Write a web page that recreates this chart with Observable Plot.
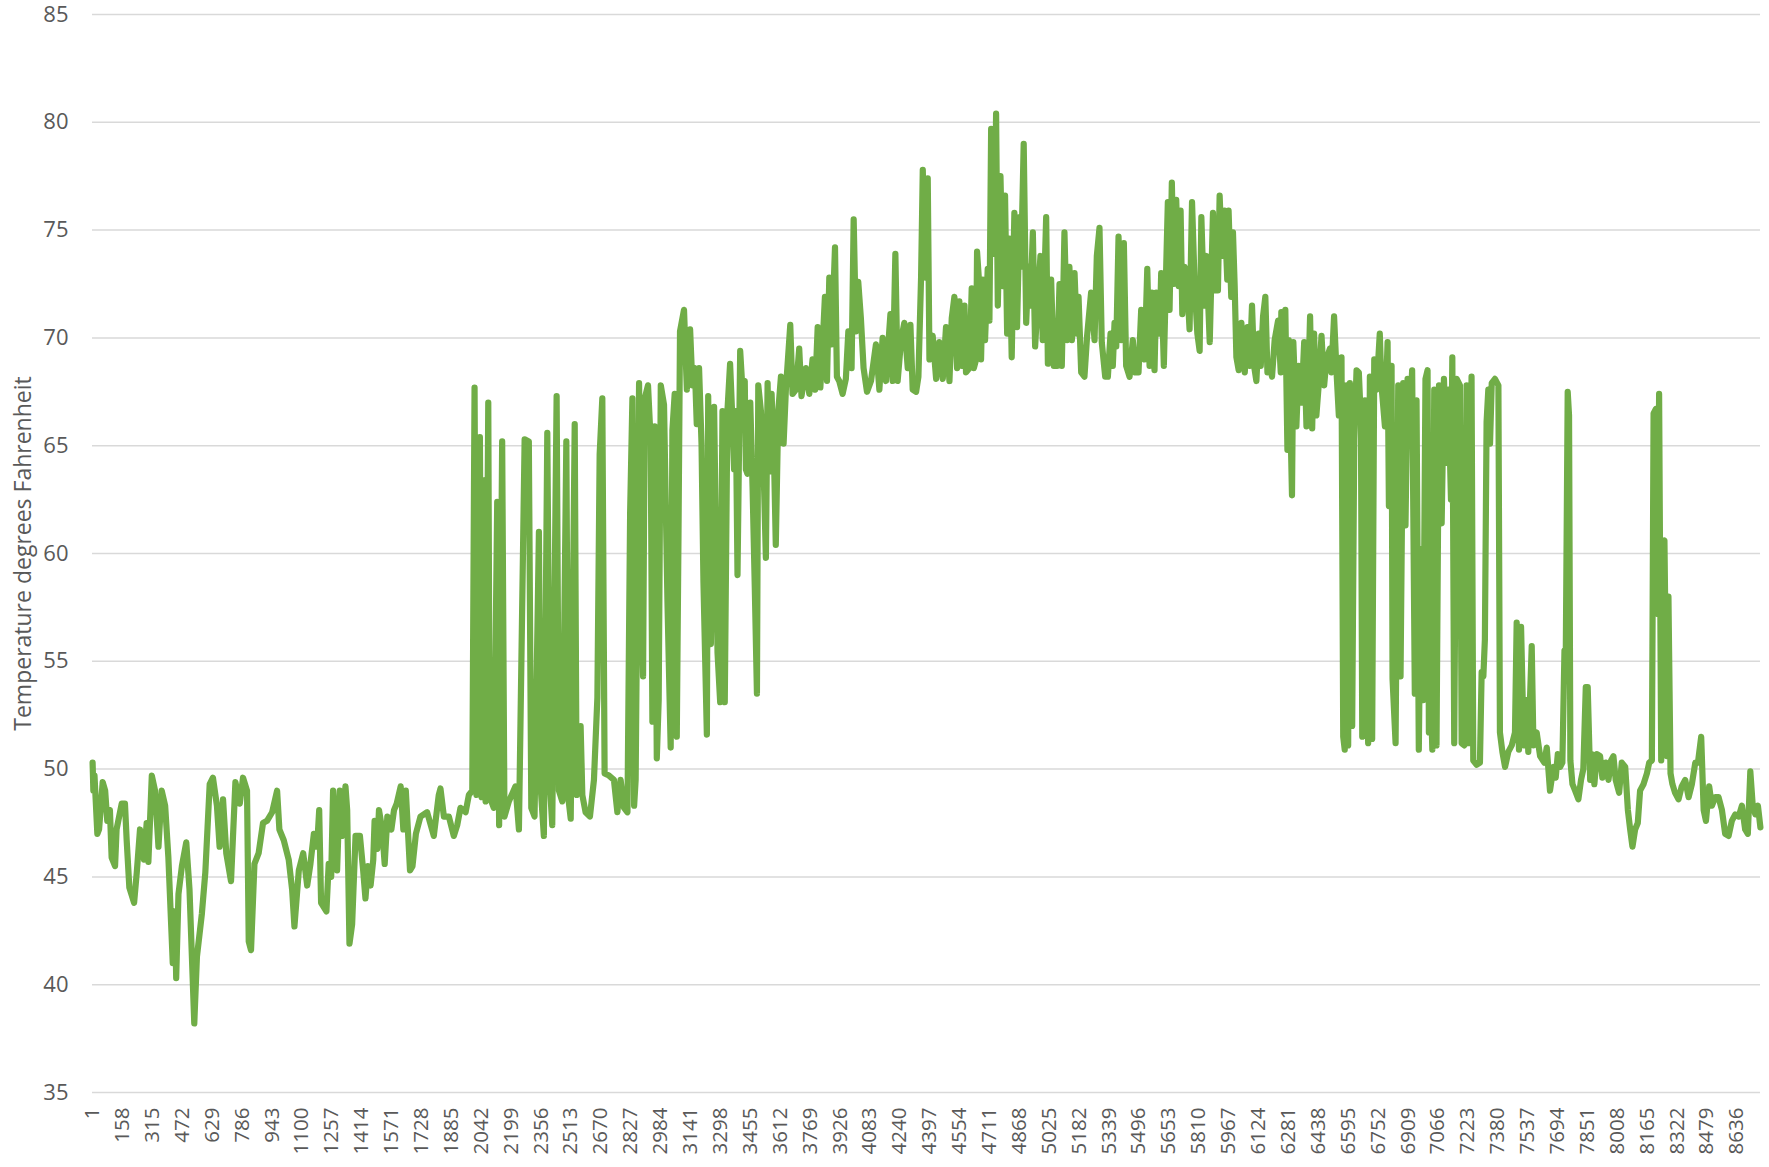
<!DOCTYPE html>
<html><head><meta charset="utf-8">
<script src="https://cdn.jsdelivr.net/npm/d3@7"></script>
<script src="https://cdn.jsdelivr.net/npm/@observablehq/plot@0.6"></script>
<style>html,body{margin:0;padding:0;background:#fff;overflow:hidden;}</style>
</head><body><div id="chart"></div>
<script>
const yTitle = "Temperature degrees Fahrenheit";
const yTicks = [35, 40, 45, 50, 55, 60, 65, 70, 75, 80, 85];
const xTicks = [1,158,315,472,629,786,943,1100,1257,1414,1571,1728,1885,2042,2199,2356,2513,2670,2827,2984,3141,3298,3455,3612,3769,3926,4083,4240,4397,4554,4711,4868,5025,5182,5339,5496,5653,5810,5967,6124,6281,6438,6595,6752,6909,7066,7223,7380,7537,7694,7851,8008,8165,8322,8479,8636];

const hours = [
1,5,11,26,35,54,67,78,92,101,
119,127,154,171,180,194,219,233,250,271,
285,294,312,329,347,364,382,399,422,434,
440,452,470,493,510,535,549,575,593,616,
633,654,668,686,703,728,751,774,791,812,
821,833,851,873,896,917,944,970,982,1005,
1031,1049,1061,1084,1107,1128,1145,1163,1180,1191,
1201,1229,1241,1254,1264,1277,1285,1299,1311,1329,
1338,1350,1364,1382,1405,1422,1434,1447,1461,1475,
1482,1496,1505,1522,1535,1549,1570,1584,1598,1619,
1633,1646,1668,1681,1699,
1723,1758,1793,1819,1828,1846,1872,1898,1916,1933,
1960,1977,1995,2007,2017,2035,2044,2052,2065,2079,
2087,2108,2126,2136,2152,2164,2187,2222,2240,2270,
2292,2305,2322,2345,2354,2371,2389,2403,2415,2438,
2450,2468,2489,2499,2512,2533,2543,2564,2573,2590,
2613,2634,2652,2664,2678,2690,2713,2739,2757,2774,
2792,2810,2824,2836,2845,2853,2871,2880,2892,2901,
2918,2932,2941,2953,2964,2974,2985,3002,3020,3037,
3046,3058,3069,3078,3086,3107,
3122,3139,3151,3164,3174,3186,3199,3209,3227,3234,
3248,3265,3283,3297,3309,3321,3335,3349,3362,3370,
3379,3388,3402,3414,3426,3432,3440,3455,3467,3479,
3490,3497,3511,3525,3537,3546,3554,3567,3581,3589,
3602,3616,3630,3642,3665,3677,3695,3712,3724,3747,
3765,3782,3796,3809,3823,3835,3847,3858,3870,3882,
3900,3910,3922,3940,3957,3970,3987,3998,4010,4022,
4036,4050,4068,4089,4115,4133,4150,4168,4180,4191,
4203,4217,4229,4247,4264,4282,4296,4308,4326,4338,
4352,4361,4373,4387,4396,4413,4431,4448,4466,4483,
4501,4513,4527,4541,4553,4566,4580,4588,4606,4618,
4629,4641,4646,4658,
4667,4676,4688,4702,4711,4720,4737,4746,4755,4769,
4781,4793,4804,4816,4828,4842,4856,4869,4877,4891,
4904,4916,4926,4939,4951,4965,4979,4991,5009,5018,
5035,5049,5067,5079,5091,5105,5119,5131,5144,5158,
5170,5179,5193,5210,5224,5245,5263,5275,5289,5301,
5319,5333,5347,5359,5368,5377,5389,5403,5417,5429,
5447,5464,5477,5494,5508,5526,5540,5552,5564,5578,
5587,5605,5613,5627,5640,5648,5657,5669,5680,5692,
5705,5715,5724,5736,5750,5762,5775,5789,5803,5815,
5824,5838,5850,5868,5885,5897,5911,5920,5932,5946,
5960,5967,5981,5990,5999,6008,6020,6034,6052,6066,
6078,6090,6101,6113,6125,6136,6148,6160,6171,6183,
6195,6209,6227,6241,
6244,6253,6265,6276,6283,6300,6307,6323,6335,6350,
6364,6376,6388,6395,6406,6416,6428,6441,6455,6469,
6481,6499,6507,6521,6534,6546,6560,6569,6577,6586,
6595,6604,6616,6627,6639,6651,6662,6669,6683,6691,
6700,6709,6721,6732,6744,6761,6770,6788,6802,6809,
6823,6828,6844,6858,6870,6884,6896,6907,6919,6931,
6945,6954,6966,6977,6989,7001,7012,7019,7030,7037,
7047,7059,7072,7086,7098,7112,7121,7135,7142,7152,
7165,7182,7191,7205,7217,7229,7243,7252,7270,7287,
7296,7305,7313,7322,7331,7340,7349,7366,7384,7392,
7405,7419,7436,7454,7471,7480,7492,7503,7517,7532,
7541,7559,7568,7585,7603,
7625,7638,7655,7673,7685,7696,7708,7720,7731,7738,
7748,7755,7762,7773,7787,7804,7818,7830,7843,7853,
7866,7874,7888,7901,7918,7930,7948,7962,7976,7988,
8000,8018,8032,8050,8064,8076,8088,8102,8116,8128,
8146,8164,8176,8190,8199,8211,8221,8228,8239,8246,
8256,8269,8277,8288,8298,8312,8330,8347,8365,8383,
8400,8418,8432,8449,8462,8474,8491,8505,8523,8540,
8558,8575,8593,8610,8628,8646,8663,8680,8694,8707,
8719,8733,8747,8760
];

const tempF = [
50.3,49.0,49.7,47.0,47.2,49.4,49.0,47.6,48.1,45.9,
45.5,47.2,48.4,48.4,46.7,44.5,43.8,45.2,47.2,45.8,
47.5,45.7,49.7,49.0,46.4,49.0,48.3,45.9,41.0,43.4,
40.3,44.2,45.5,46.6,44.4,38.2,41.3,43.3,45.2,49.3,
49.6,48.3,46.4,48.6,46.1,44.8,49.4,48.4,49.6,49.0,
42.0,41.6,45.6,46.1,47.5,47.6,48.0,49.0,47.2,46.7,
45.8,44.4,42.7,45.3,46.1,44.6,45.6,47.0,46.4,48.1,
43.8,43.4,45.6,45.0,49.0,46.7,45.3,49.0,46.9,49.2,
48.1,41.9,42.8,46.9,46.9,45.3,44.0,45.5,44.6,45.8,
47.6,46.3,48.1,47.2,45.6,47.8,47.2,48.1,48.4,49.2,
47.2,49.0,45.3,45.5,47.0,
47.8,48.0,46.9,48.8,49.1,47.8,47.8,46.9,47.4,48.2,
48.0,48.8,49.0,67.7,48.8,65.4,48.7,63.4,48.5,67.0,
48.7,48.2,62.4,47.4,65.2,47.8,48.5,49.2,47.2,65.3,
65.2,48.2,47.8,61.0,49.2,46.9,65.6,49.2,47.4,67.3,
49.0,48.5,65.2,48.7,47.7,66.0,48.8,52.0,48.8,48.0,
47.8,49.5,53.3,64.6,67.2,49.8,49.7,49.5,48.0,49.5,
48.2,48.0,61.9,67.2,48.3,49.5,67.9,59.8,54.3,67.2,
67.8,65.2,52.2,65.9,50.5,53.2,67.8,66.9,57.8,51.0,
65.7,67.4,51.5,60.9,70.3,71.3,
67.6,70.4,67.8,68.6,66.0,68.6,65.1,58.7,51.6,67.3,
55.8,66.8,55.4,53.1,66.6,53.1,66.6,68.8,66.0,63.9,
66.6,59.0,69.4,67.6,68.0,63.9,63.7,67.0,63.1,58.3,
53.5,67.8,66.6,63.9,59.8,67.9,63.8,67.4,63.9,60.4,
66.6,68.2,65.1,67.6,70.6,67.4,67.6,69.5,67.3,68.6,
67.4,69.0,67.6,70.5,67.7,69.7,71.9,68.0,72.8,69.7,
74.2,68.2,68.0,67.4,68.1,70.3,68.6,75.5,70.3,72.6,
70.9,68.6,67.5,68.0,69.7,67.6,70.0,68.0,69.7,71.1,
68.0,73.9,68.0,69.9,70.7,68.6,70.6,67.6,67.5,68.2,
72.8,77.8,72.8,77.4,69.0,70.1,68.1,69.8,68.1,70.5,
68.0,70.9,71.9,68.6,71.7,68.7,71.5,68.4,68.6,72.3,
68.6,69.0,74.0,72.4,
69.0,72.7,69.9,73.2,70.8,79.7,73.9,80.4,71.5,77.5,
72.4,76.6,70.2,74.6,69.1,75.8,70.5,75.6,73.3,79.0,
70.7,73.3,71.5,74.9,69.6,71.8,73.8,69.9,75.6,68.8,
72.7,68.7,68.7,72.5,68.7,74.9,69.9,73.3,69.9,73.0,
70.2,71.9,68.4,68.2,70.1,72.1,69.9,73.8,75.1,69.8,
68.2,68.2,70.2,68.7,70.7,69.6,74.7,69.9,74.4,68.7,
68.2,69.9,68.4,68.4,71.3,69.0,73.2,68.7,72.1,68.5,
72.1,70.2,73.0,68.7,73.5,76.3,71.3,77.2,72.5,76.4,
72.4,75.9,71.1,73.3,72.4,70.4,76.3,72.4,70.2,69.4,
75.6,71.5,73.8,69.8,75.8,72.2,72.2,76.6,73.8,75.9,
72.7,75.9,71.9,74.9,72.4,69.1,68.5,70.7,68.4,70.5,
68.7,71.5,68.7,68.0,70.2,68.7,71.0,71.9,68.4,68.7,
68.2,69.9,70.8,68.4,
71.2,68.5,71.3,64.8,69.9,62.7,69.8,65.9,68.7,67.0,
69.8,65.9,68.7,71.0,65.8,70.2,66.4,67.9,70.1,67.8,
69.0,69.5,68.4,71.0,68.4,66.4,69.1,51.5,50.9,67.8,
51.1,67.9,52.0,65.3,68.5,68.4,66.1,51.5,67.1,60.2,
51.2,68.2,51.4,69.0,67.6,70.2,67.8,65.9,69.8,62.2,
68.7,54.2,51.2,67.8,54.3,67.9,61.3,68.1,66.4,68.5,
53.5,67.1,50.9,60.2,53.2,68.1,68.5,51.7,53.2,50.9,
67.6,51.1,67.8,61.4,68.1,64.2,67.6,62.5,69.1,51.2,
68.1,67.8,51.2,51.1,67.8,51.2,68.2,50.4,50.2,50.3,
54.5,54.3,56.0,66.1,67.6,65.1,67.9,68.1,67.8,51.7,
50.8,50.1,50.8,51.1,51.7,56.8,50.9,56.6,51.1,53.2,
50.8,55.7,51.1,51.7,50.6,
50.3,51.0,49.0,50.1,49.6,50.7,50.1,50.3,55.5,55.5,
67.5,66.4,50.4,49.3,49.0,48.6,49.5,50.0,53.8,53.8,
49.5,50.7,49.3,50.7,50.6,49.6,50.3,49.5,50.4,50.6,
49.5,48.9,50.3,50.1,48.1,47.2,46.4,47.2,47.5,49.0,
49.3,49.8,50.3,50.4,66.5,66.7,57.2,67.4,50.4,60.5,
60.6,50.6,58.0,49.8,49.3,48.9,48.6,49.2,49.5,48.7,
49.3,50.3,50.3,51.5,48.1,47.6,49.2,48.3,48.7,48.7,
48.1,47.0,46.9,47.6,47.9,47.8,48.3,47.2,47.0,49.9,
48.4,47.9,48.3,47.3
];

const data = hours.map((h, i) => ({h, t: tempF[i]}));

const chart = Plot.plot({
  width: 1769,
  height: 1167,
  marginLeft: 92,
  marginRight: 9,
  marginTop: 14,
  marginBottom: 75,
  style: {fontFamily: "'Open Sans', sans-serif", fontSize: "21px", color: "#595959", background: "#ffffff"},
  x: {type: "linear", domain: [0.5, 8760.5]},
  y: {domain: [35, 85]},
  marks: [
    Plot.gridY(yTicks, {stroke: "#d9d9d9", strokeOpacity: 1, strokeWidth: 1.5}),
    Plot.axisY(yTicks, {tickSize: 0, tickPadding: 24, label: null, fontSize: 22, fill: "#595959"}),
    Plot.axisX(xTicks, {tickSize: 0, tickPadding: 15, tickRotate: -90, label: null, tickFormat: d => String(d), fontSize: 20.5, fill: "#595959"}),
    Plot.line(data, {x: "h", y: "t", stroke: "#70AD47", strokeWidth: 6.2, strokeLinejoin: "round", strokeLinecap: "round"}),
    Plot.text([yTitle], {text: d => d, frameAnchor: "left", textAnchor: "middle", dx: -68.5, rotate: -90, fontSize: 23, fontFamily: "'Open Sans', sans-serif", fill: "#595959"})
  ]
});
document.getElementById("chart").appendChild(chart);
</script>
</body></html>
